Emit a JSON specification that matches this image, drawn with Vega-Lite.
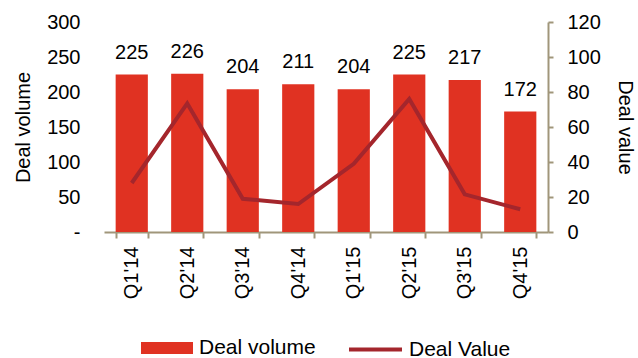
{
  "$schema": "https://vega.github.io/schema/vega-lite/v6.json",
  "width": 444,
  "height": 210,
  "autosize": "none",
  "padding": {"left": 104, "top": 22, "right": 90, "bottom": 126},
  "background": "white",
  "config": {
    "view": {"stroke": null},
    "font": "Liberation Sans",
    "axis": {"labelFont": "Liberation Sans", "titleFont": "Liberation Sans", "labelColor": "#000", "titleColor": "#000", "titleFontWeight": "normal", "labelFontSize": 20, "titleFontSize": 20, "grid": false, "labelOverlap": false},
    "legend": {"labelFont": "Liberation Sans", "labelFontSize": 21, "labelColor": "#000"}
  },
  "data": {
    "values": [
      {"q": "Q1'14", "volume": 225, "value": 28},
      {"q": "Q2'14", "volume": 226, "value": 73.5},
      {"q": "Q3'14", "volume": 204, "value": 19},
      {"q": "Q4'14", "volume": 211, "value": 16},
      {"q": "Q1'15", "volume": 204, "value": 39},
      {"q": "Q2'15", "volume": 225, "value": 76},
      {"q": "Q3'15", "volume": 217, "value": 21.5},
      {"q": "Q4'15", "volume": 172, "value": 13}
    ]
  },
  "encoding": {
    "x": {
      "field": "q", "type": "nominal", "sort": null,
      "scale": {"paddingInner": 0.42, "paddingOuter": 0.21},
      "axis": {"title": null, "labelAngle": -90, "labelAlign": "right", "labelBaseline": "middle", "tickBand": "extent", "domainColor": "#A0967A", "tickColor": "#A0967A", "domainWidth": 2, "tickWidth": 2, "tickSize": 6, "labelPadding": 8}
    }
  },
  "layer": [
    {
      "encoding": {
        "y": {"field": "volume", "type": "quantitative", "scale": {"domain": [0, 300], "nice": false},
          "axis": {"title": "Deal volume", "values": [0, 50, 100, 150, 200, 250, 300], "labelExpr": "datum.value == 0 ? '-     ' : datum.label", "domain": false, "ticks": false, "labelPadding": 24, "titlePadding": 13, "labelOverlap": false, "labelBound": false}}
      },
      "layer": [
        {
          "mark": {"type": "bar"},
          "encoding": {
            "color": {"datum": "Deal volume", "type": "nominal", "scale": {"range": ["#E03222"]},
              "legend": {"title": null, "orient": "none", "legendX": 37, "legendY": 300, "symbolType": "M-1,-0.23H1V0.23H-1Z", "symbolSize": 2704, "symbolStrokeWidth": 0, "labelOffset": 6}}
          }
        },
        {
          "mark": {"type": "text", "baseline": "alphabetic", "dy": -16, "fontSize": 20, "font": "Liberation Sans", "color": "#000"},
          "encoding": {
            "text": {"field": "volume", "type": "quantitative"}
          }
        }
      ]
    },
    {
      "mark": {"type": "line", "strokeWidth": 4},
      "encoding": {
        "y": {"field": "value", "type": "quantitative", "scale": {"domain": [0, 120], "nice": false},
          "axis": {"orient": "right", "title": "Deal value", "values": [0, 20, 40, 60, 80, 100, 120], "domainColor": "#A0967A", "tickColor": "#A0967A", "domainWidth": 2, "tickWidth": 2, "tickSize": 5, "labelPadding": 14, "titlePadding": 14, "labelOverlap": false}},
        "color": {"datum": "Deal Value", "type": "nominal", "scale": {"range": ["#A4262C"]},
          "legend": {"title": null, "orient": "none", "legendX": 243, "legendY": 299, "symbolType": "stroke", "symbolSize": 2809, "symbolStrokeWidth": 4, "labelOffset": 5}}
      }
    }
  ],
  "resolve": {"scale": {"y": "independent", "color": "independent"}}
}
